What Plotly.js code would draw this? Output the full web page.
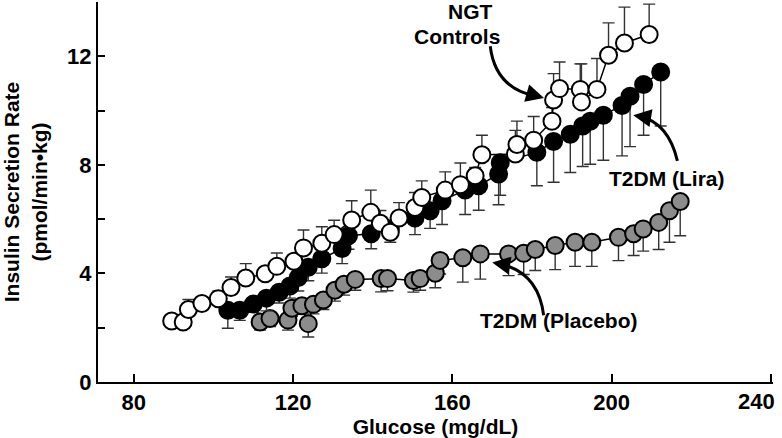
<!DOCTYPE html>
<html>
<head>
<meta charset="utf-8">
<script src="https://cdn.plot.ly/plotly-3.0.1.min.js"></script>
<style>html,body{margin:0;padding:0;background:#fff;}#chart{width:782px;height:438px;}</style>
</head>
<body>
<div id="chart"></div>
<script>
// NGT Controls (open circles), error bars upward
const ngtGlucose = [89.5, 92.4, 93.7, 97.1, 101.2, 104.4, 108.1, 113.0, 115.9, 120.2, 122.6, 127.2, 130.3, 134.7, 139.5, 141.9, 144.4, 146.6, 150.6, 152.3, 158.2, 162.0, 165.7, 167.4, 175.8, 176.2, 180.4, 185.0, 185.4, 186.9, 192.1, 192.4, 196.3, 199.2, 203.2, 209.4];
const ngtISR     = [2.25, 2.21, 2.67, 2.89, 3.07, 3.48, 3.83, 3.99, 4.26, 4.45, 4.94, 5.11, 5.43, 5.97, 6.25, 5.85, 5.52, 6.04, 6.43, 6.80, 7.07, 7.27, 7.60, 8.37, 8.40, 8.75, 8.91, 9.61, 10.39, 10.81, 10.78, 10.32, 10.78, 12.04, 12.49, 12.80];
const ngtErr     = [0.10, 0.10, 0.37, 0.18, 0.28, 0.39, 0.53, 0.20, 0.49, 0.20, 0.66, 0.61, 0.53, 0.71, 0.82, 0.47, 0.20, 0.57, 0.55, 0.61, 0.67, 0.80, 0.30, 0.72, 0.87, 0.86, 0.87, 0.50, 0.97, 0.98, 0.94, 1.40, 1.14, 1.19, 1.32, 1.12];

// T2DM (Lira) (filled black), error bars downward
const liraGlucose = [103.6, 106.6, 110.0, 113.3, 116.5, 119.2, 121.3, 123.8, 127.2, 132.3, 133.9, 139.6, 144.4, 150.6, 154.4, 157.4, 163.2, 166.6, 171.6, 172.0, 181.2, 185.4, 189.6, 192.7, 194.6, 197.9, 202.6, 204.6, 208.0, 212.3];
const liraISR     = [2.64, 2.64, 2.87, 3.09, 3.31, 3.54, 3.85, 4.23, 4.54, 4.92, 5.39, 5.46, 5.65, 6.04, 6.31, 6.68, 7.07, 7.23, 7.66, 8.08, 8.46, 8.86, 9.13, 9.43, 9.61, 9.83, 10.19, 10.53, 10.96, 11.42];
const liraErr     = [0.66, 0.37, 0.30, 0.47, 0.40, 0.45, 0.50, 0.50, 0.53, 0.56, 0.50, 0.55, 0.50, 0.61, 0.65, 0.88, 0.90, 0.90, 1.13, 1.20, 1.23, 1.50, 1.41, 1.49, 1.59, 1.66, 1.86, 1.86, 1.87, 1.99];

// T2DM (Placebo) (gray), error bars downward
const placeboGlucose = [111.7, 114.2, 118.7, 119.7, 122.2, 123.8, 125.1, 127.6, 130.5, 132.8, 135.6, 142.1, 143.7, 150.2, 151.9, 155.7, 156.9, 162.6, 167.0, 174.1, 177.9, 180.8, 185.8, 190.8, 195.0, 201.7, 205.5, 207.9, 211.8, 214.5, 217.2];
const placeboISR     = [2.21, 2.34, 2.28, 2.72, 2.81, 2.15, 2.86, 3.02, 3.38, 3.60, 3.78, 3.81, 3.81, 3.74, 3.81, 4.01, 4.48, 4.58, 4.72, 4.72, 4.74, 4.88, 5.03, 5.15, 5.15, 5.33, 5.46, 5.64, 5.88, 6.31, 6.65];
const placeboErr     = [0.30, 0.30, 0.37, 0.30, 0.30, 0.49, 0.35, 0.35, 0.40, 0.40, 0.40, 0.49, 0.45, 0.43, 0.43, 0.54, 0.50, 0.90, 0.93, 0.80, 0.78, 0.77, 0.89, 0.89, 0.89, 0.86, 0.80, 0.82, 1.00, 1.16, 1.26];

const xTicks = [80, 120, 160, 200, 240];
const xTickText = ['80', '120', '160', '200', ''];   // last label placed flush right below
const lastXTick = '240';
const yTicks = [0, 2, 4, 6, 8, 10, 12];
const yTickText = ['0', '', '4', '', '8', '', '12'];

const FONT = 'Liberation Sans, Arial, Helvetica, sans-serif';
const zeros = a => a.map(() => 0);

function series(x, y, errUp, errDown, fill, name) {
  return {
    type: 'scatter', mode: 'lines+markers', name: name,
    x: x, y: y,
    line: {color: '#000', width: 1.5},
    marker: {size: 17, color: fill, line: {color: '#000', width: 2}},
    error_y: {type: 'data', symmetric: false, array: errUp, arrayminus: errDown,
              color: '#333', thickness: 1.4, width: 6},
    cliponaxis: false
  };
}

const traces = [
  series(placeboGlucose, placeboISR, zeros(placeboErr), placeboErr, '#8c8c8c', 'T2DM (Placebo)'),
  series(liraGlucose, liraISR, zeros(liraErr), liraErr, '#000000', 'T2DM (Lira)'),
  series(ngtGlucose, ngtISR, ngtErr, zeros(ngtErr), '#ffffff', 'NGT Controls')
];

const labelFont = {family: FONT, size: 21, color: '#000', weight: 700};
const tickFont = {family: FONT, size: 22, color: '#000', weight: 700};

const layout = {
  width: 782, height: 438,
  margin: {l: 98, r: 9, t: 2, b: 56},
  paper_bgcolor: '#fff', plot_bgcolor: '#fff',
  showlegend: false,
  xaxis: {
    range: [71, 240.5], tickvals: xTicks, ticktext: xTickText,
    ticks: 'inside', ticklen: 8, tickwidth: 2, tickcolor: '#000',
    showline: true, linewidth: 2, linecolor: '#000', showgrid: false, zeroline: false,
    tickfont: tickFont,
    title: {text: 'Glucose (mg/dL)', font: labelFont, standoff: 0}
  },
  yaxis: {
    range: [0, 14], tickvals: yTicks, ticktext: yTickText, ticks: 'inside', ticklen: 7, tickwidth: 2, tickcolor: '#000',
    showline: true, linewidth: 2, linecolor: '#000', showgrid: false, zeroline: false,
    tickfont: tickFont,
    title: {text: 'Insulin Secretion Rate<br>(pmol/min•kg)', font: labelFont, standoff: 14}
  },
  shapes: [
    {type: 'path', xref: 'x', yref: 'y', path: 'M 169.5 12.37 Q 170.8 10.78 181.5 10.52', line: {color: '#000', width: 3}},
    {type: 'path', xref: 'x', yref: 'y', path: 'M 216.5 8.15 Q 214.2 9.54 207.2 9.78', line: {color: '#000', width: 3}},
    {type: 'path', xref: 'x', yref: 'y', path: 'M 182.9 2.46 Q 181.6 4.04 171.8 4.36', line: {color: '#000', width: 3}}
  ],
  annotations: [
    {x: xTicks[4], y: 0, xref: 'x', yref: 'paper', xanchor: 'right', yanchor: 'top', xshift: 6, yshift: -5,
     text: lastXTick, showarrow: false, font: tickFont},
    {x: 164.5, y: 13.65, xref: 'x', yref: 'y', text: 'NGT', showarrow: false, font: labelFont},
    {x: 161.1, y: 12.73, xref: 'x', yref: 'y', text: 'Controls', showarrow: false, font: labelFont},
    {x: 214.0, y: 7.49, xref: 'x', yref: 'y', text: 'T2DM (Lira)', showarrow: false, font: labelFont},
    {x: 186.7, y: 2.28, xref: 'x', yref: 'y', text: 'T2DM (Placebo)', showarrow: false, font: labelFont},
    {x: 183.0, y: 10.46, xref: 'x', yref: 'y', ax: -14, ay: -4, text: '', showarrow: true, arrowhead: 2, arrowsize: 1.2, arrowwidth: 3, arrowcolor: '#000'},
    {x: 205.4, y: 9.83, xref: 'x', yref: 'y', ax: 12, ay: 2, text: '', showarrow: true, arrowhead: 2, arrowsize: 1.2, arrowwidth: 3, arrowcolor: '#000'},
    {x: 170.0, y: 4.40, xref: 'x', yref: 'y', ax: 12, ay: 2, text: '', showarrow: true, arrowhead: 2, arrowsize: 1.2, arrowwidth: 3, arrowcolor: '#000'}
  ]
};

Plotly.newPlot('chart', traces, layout, {displayModeBar: false, staticPlot: true});
</script>
</body>
</html>
